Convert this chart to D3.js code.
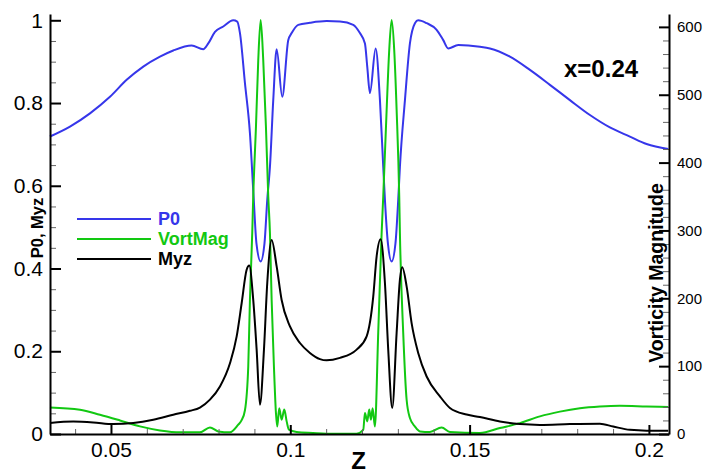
<!DOCTYPE html>
<html>
<head>
<meta charset="utf-8">
<script src="https://cdn.jsdelivr.net/npm/d3@7"></script>
<style>
  html, body { margin: 0; padding: 0; background: #fff; }
  svg { display: block; font-family: "Liberation Sans", Arial, Helvetica, sans-serif; }
</style>
</head>
<body>
<svg id="chart" width="708" height="475"></svg>
<script>
// Spanwise profiles at station x = 0.24
// Total pressure P0 (left axis)
const p0Z = [0.03299, 0.03857, 0.04415, 0.04972, 0.05438, 0.05901, 0.06366, 0.06737, 0.07250, 0.07573,
  0.07713, 0.07900, 0.08131, 0.08410, 0.08521, 0.08597, 0.08736, 0.08875, 0.08973, 0.09057,
  0.09174, 0.09280, 0.09358, 0.09433, 0.09525, 0.09620, 0.09776, 0.09943, 0.10038, 0.10222,
  0.10548, 0.11014, 0.11385, 0.11755, 0.11942, 0.12082, 0.12146, 0.12221, 0.12380, 0.12500,
  0.12592, 0.12639, 0.12723, 0.12826, 0.12932, 0.13010, 0.13057, 0.13197, 0.13336, 0.13476,
  0.13567, 0.13802, 0.14081, 0.14265, 0.14404, 0.14683, 0.15288, 0.15567, 0.16124, 0.16682,
  0.17239, 0.17797, 0.18355, 0.18912, 0.19470, 0.19935, 0.20538];
const p0Val = [0.719, 0.743, 0.775, 0.815, 0.856, 0.888, 0.912, 0.927, 0.939, 0.930,
  0.944, 0.972, 0.985, 1.000, 0.997, 0.969, 0.848, 0.727, 0.580, 0.460,
  0.417, 0.460, 0.566, 0.646, 0.807, 0.930, 0.815, 0.952, 0.969, 0.989,
  0.994, 0.998, 0.997, 0.989, 0.969, 0.944, 0.888, 0.824, 0.932, 0.807,
  0.646, 0.566, 0.460, 0.417, 0.460, 0.566, 0.646, 0.807, 0.944, 0.993,
  1.000, 0.993, 0.977, 0.952, 0.932, 0.940, 0.936, 0.932, 0.912, 0.880,
  0.844, 0.807, 0.771, 0.741, 0.719, 0.701, 0.689];

// Vorticity magnitude (right axis)
const vortZ = [0.03299, 0.04136, 0.04693, 0.05251, 0.05809, 0.06366, 0.06924, 0.07481, 0.07760, 0.07992,
  0.08318, 0.08549, 0.08640, 0.08736, 0.08828, 0.08875, 0.08939, 0.08967, 0.09043, 0.09107,
  0.09174, 0.09246, 0.09321, 0.09386, 0.09433, 0.09480, 0.09544, 0.09600, 0.09636, 0.09692,
  0.09759, 0.09832, 0.09899, 0.09963, 0.10177, 0.10632, 0.11014, 0.11850, 0.12034, 0.12082,
  0.12146, 0.12201, 0.12249, 0.12296, 0.12360, 0.12452, 0.12547, 0.12592, 0.12687, 0.12759,
  0.12826, 0.12898, 0.12965, 0.13038, 0.13057, 0.13149, 0.13244, 0.13336, 0.13476, 0.13615,
  0.13894, 0.14220, 0.14451, 0.15288, 0.15845, 0.16403, 0.16961, 0.17518, 0.18076, 0.18633,
  0.19191, 0.19935, 0.20538];
const vortVal = [39, 35.8, 28.4, 20, 11.2, 5.3, 2.4, 2.4, 9.7, 3.8,
  2.4, 13.7, 20, 35, 99.6, 198, 296, 350, 453, 551,
  610, 551, 453, 350, 296, 198, 99.6, 31, 11, 38,
  21, 36, 18.6, 6.3, 3, 1.5, 0.5, 0.5, 6, 31,
  18.6, 36, 21, 38, 11, 149, 296, 350, 478, 566,
  610, 566, 478, 350, 296, 149, 50.5, 23.6, 11, 3.8,
  3, 9.7, 3, 1.5, 8.8, 16, 26, 33, 38, 40.6,
  41.7, 40.6, 39.8];

// Moment Myz (left axis)
const myzZ = [0.03299, 0.03949, 0.04507, 0.05064, 0.05622, 0.06179, 0.06737, 0.07203, 0.07481, 0.07760,
  0.08039, 0.08318, 0.08505, 0.08644, 0.08783, 0.08856, 0.08967, 0.09062, 0.09154, 0.09266,
  0.09358, 0.09480, 0.09620, 0.09759, 0.09991, 0.10269, 0.10548, 0.10827, 0.11014, 0.11385,
  0.11850, 0.12129, 0.12313, 0.12407, 0.12519, 0.12639, 0.12731, 0.12843, 0.12965, 0.13057,
  0.13121, 0.13244, 0.13383, 0.13567, 0.13802, 0.14173, 0.14451, 0.14917, 0.15288, 0.15845,
  0.16403, 0.16961, 0.17797, 0.18633, 0.19004, 0.19470, 0.19935, 0.20538];
const myzVal = [0.0266, 0.030, 0.028, 0.024, 0.0266, 0.0345, 0.0466, 0.056, 0.064, 0.083,
  0.115, 0.171, 0.236, 0.316, 0.397, 0.407, 0.324, 0.204, 0.071, 0.204,
  0.365, 0.469, 0.405, 0.324, 0.260, 0.220, 0.196, 0.181, 0.178, 0.184,
  0.204, 0.236, 0.332, 0.429, 0.471, 0.365, 0.204, 0.063, 0.244, 0.373,
  0.403, 0.357, 0.268, 0.196, 0.139, 0.091, 0.063, 0.047, 0.041, 0.030,
  0.024, 0.022, 0.024, 0.025, 0.018, 0.010, 0.008, 0.008];

// Axis ticks and labels
const zTicks = [0.05, 0.1, 0.15, 0.2];
const zTickLabels = ["0.05", "0.1", "0.15", "0.2"];
const zMinor = [0.04, 0.06, 0.07, 0.08, 0.09, 0.11, 0.12, 0.13, 0.14, 0.16, 0.17, 0.18, 0.19];
const leftTicks = [0, 0.2, 0.4, 0.6, 0.8, 1];
const leftTickLabels = ["0", "0.2", "0.4", "0.6", "0.8", "1"];
const leftMinor = [0.05, 0.1, 0.15, 0.25, 0.3, 0.35, 0.45, 0.5, 0.55, 0.65, 0.7, 0.75, 0.85, 0.9, 0.95];
const rightTicks = [0, 100, 200, 300, 400, 500, 600];
const rightTickLabels = ["0", "100", "200", "300", "400", "500", "600"];
const rightMinor = [20, 40, 60, 80, 120, 140, 160, 180, 220, 240, 260, 280, 320, 340, 360, 380, 420, 440, 460, 480, 520, 540, 560, 580];

const seriesNames = ["P0", "VortMag", "Myz"];
const seriesColors = ["#3636ea", "#12c812", "#000000"];

const svg = d3.select("#chart");
const plotLeft = 50, plotRight = 669, plotTop = 14, plotBottom = 434;

const x = d3.scaleLinear().domain([0.033, 0.2056]).range([plotLeft, plotRight]);
const yL = d3.scaleLinear().domain([0, 1.0152]).range([plotBottom, plotTop]);
const yR = d3.scaleLinear().domain([0, 619]).range([plotBottom, plotTop]);

// Curves
const plot = svg.append("g");
function drawLine(zs, vs, yScale, color) {
  const pts = zs.map((z, i) => [z, vs[i]]);
  plot.append("path")
    .datum(pts)
    .attr("fill", "none")
    .attr("stroke", color)
    .attr("stroke-width", 2)
    .attr("stroke-linejoin", "round")
    .attr("d", d3.line().x(d => x(d[0])).y(d => yScale(d[1])).curve(d3.curveMonotoneX));
}
drawLine(p0Z, p0Val, yL, seriesColors[0]);
drawLine(vortZ, vortVal, yR, seriesColors[1]);
drawLine(myzZ, myzVal, yL, seriesColors[2]);

// Minor ticks (inward)
function styleMinor(g) {
  g.select(".domain").remove();
  g.selectAll(".tick line").attr("stroke", "#666").attr("stroke-width", 1);
}
svg.append("g").attr("transform", `translate(0,${plotBottom})`)
  .call(d3.axisBottom(x).tickValues(zMinor).tickSizeInner(-5).tickSizeOuter(0).tickFormat(""))
  .call(styleMinor);
svg.append("g").attr("transform", `translate(${plotLeft},0)`)
  .call(d3.axisLeft(yL).tickValues(leftMinor).tickSizeInner(-6).tickSizeOuter(0).tickFormat(""))
  .call(styleMinor);
svg.append("g").attr("transform", `translate(${plotRight},0)`)
  .call(d3.axisRight(yR).tickValues(rightMinor).tickSizeInner(-6).tickSizeOuter(0).tickFormat(""))
  .call(styleMinor);

// Major axes
function styleMajor(g, size) {
  g.select(".domain").attr("stroke", "#000").attr("stroke-width", 2);
  g.selectAll(".tick line").attr("stroke", "#000").attr("stroke-width", 2);
  g.selectAll(".tick text").attr("fill", "#000").attr("font-size", size)
    .attr("font-family", "Liberation Sans, Arial, sans-serif");
}
svg.append("g").attr("transform", `translate(0,${plotBottom})`)
  .call(d3.axisBottom(x).tickValues(zTicks).tickSizeInner(-9).tickSizeOuter(0).tickPadding(8)
    .tickFormat((d, i) => zTickLabels[i]))
  .call(g => styleMajor(g, 21));
svg.append("g").attr("transform", `translate(${plotLeft},0)`)
  .call(d3.axisLeft(yL).tickValues(leftTicks).tickSizeInner(-11).tickSizeOuter(0).tickPadding(7)
    .tickFormat((d, i) => leftTickLabels[i]))
  .call(g => styleMajor(g, 21));
svg.append("g").attr("transform", `translate(${plotRight},0)`)
  .call(d3.axisRight(yR).tickValues(rightTicks).tickSizeInner(-10).tickSizeOuter(0).tickPadding(8)
    .tickFormat((d, i) => rightTickLabels[i]))
  .call(g => styleMajor(g, 15));

// Axis titles
svg.append("text")
  .attr("x", (plotLeft + plotRight) / 2 - 1).attr("y", 469)
  .attr("text-anchor", "middle").attr("font-weight", "bold").attr("font-size", 24)
  .text("Z");
svg.append("text")
  .attr("transform", "translate(43,228) rotate(-90)")
  .attr("text-anchor", "middle").attr("font-weight", "bold").attr("font-size", 16.5)
  .text("P0, Myz");
svg.append("text")
  .attr("transform", "translate(663,273) rotate(-90)")
  .attr("text-anchor", "middle").attr("font-weight", "bold").attr("font-size", 19.5)
  .text("Vorticity Magnitude");

// Station label
svg.append("text")
  .attr("x", 564).attr("y", 77)
  .attr("font-weight", "bold").attr("font-size", 24)
  .text("x=0.24");

// Legend
const legend = svg.append("g");
const legendY = [219, 239, 259];
seriesNames.forEach((name, i) => {
  legend.append("line")
    .attr("x1", 77).attr("x2", 151).attr("y1", legendY[i]).attr("y2", legendY[i])
    .attr("stroke", seriesColors[i]).attr("stroke-width", 2);
  legend.append("text")
    .attr("x", 158).attr("y", legendY[i]).attr("dy", "0.36em")
    .attr("font-weight", "bold").attr("font-size", 18)
    .attr("fill", seriesColors[i])
    .text(name);
});
</script>
</body>
</html>
